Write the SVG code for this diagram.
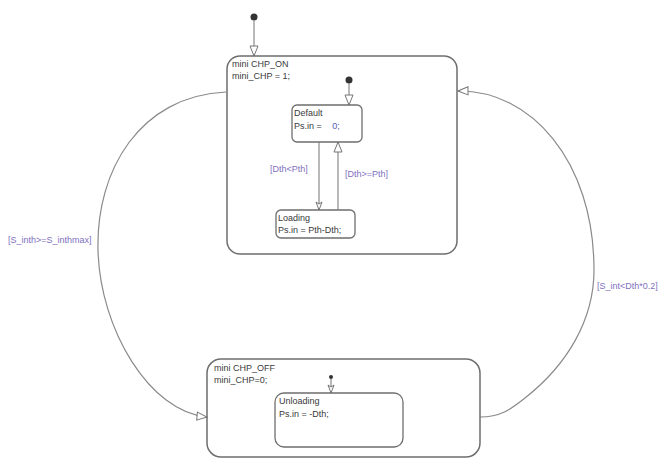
<svg xmlns="http://www.w3.org/2000/svg" width="665" height="461" viewBox="0 0 665 461">
<style>
.box{fill:none;stroke:#6e6e6e;stroke-width:1.5}
.ibox{fill:none;stroke:#6e6e6e;stroke-width:1.3}
.t{font-family:"Liberation Sans",Arial,sans-serif;font-size:9px;fill:#3a3a3a}
.lbl{font-family:"Liberation Sans",Arial,sans-serif;font-size:9px;fill:#8070c0}
.wire{fill:none;stroke:#8a8a8a;stroke-width:1.2}
.dot{fill:#333}
</style>
<defs>
<marker id="arr" markerWidth="12" markerHeight="10" refX="11" refY="5" orient="auto" markerUnits="userSpaceOnUse">
<path d="M1,1 L11,5 L1,9 Z" fill="#fff" stroke="#777" stroke-width="1"/>
</marker>
<marker id="arrs" markerWidth="10" markerHeight="8" refX="9" refY="4" orient="auto" markerUnits="userSpaceOnUse">
<path d="M1,1 L9,4 L1,7 L3,4 Z" fill="#fff" stroke="#777" stroke-width="1"/>
</marker>
</defs>
<g id="connectors">
<circle class="dot" cx="254" cy="17" r="3.5"/>
<line class="wire" x1="254" y1="20" x2="254" y2="56" marker-end="url(#arr)"/>
<circle class="dot" cx="349" cy="80" r="3.5"/>
<line class="wire" x1="349" y1="83" x2="349" y2="105" marker-end="url(#arr)"/>
<line class="wire" x1="319" y1="142" x2="319" y2="210" marker-end="url(#arrs)"/>
<line class="wire" x1="338" y1="210" x2="338" y2="142" marker-end="url(#arr)"/>
<circle class="dot" cx="331" cy="377" r="2"/>
<line class="wire" x1="331" y1="379" x2="331" y2="393" marker-end="url(#arrs)"/>
<path class="wire" d="M226,92 C140,96 96,170 98,250 C100,330 150,412 207,417" marker-end="url(#arr)"/>
<path class="wire" d="M480,417 C500,417 510,410 525,398 C567,365 594,320 594,270 C594,160 530,90 458,91" marker-end="url(#arr)"/>
<text class="lbl" x="270" y="172">[Dth&lt;Pth]</text>
<text class="lbl" x="345" y="177">[Dth&gt;=Pth]</text>
<text class="lbl" x="8" y="243">[S_inth&gt;=S_inthmax]</text>
<text class="lbl" x="597" y="289">[S_int&lt;Dth*0.2]</text>
</g>
<g id="mini_CHP_ON">
<rect class="box" x="227" y="56" width="230" height="198" rx="13"/>
<text class="t" x="232" y="67">mini CHP_ON</text>
<text class="t" x="232" y="79">mini_CHP = 1;</text>
</g>
<g id="Default">
<rect class="ibox" x="292" y="105" width="70" height="37" rx="5"/>
<text class="t" x="294" y="116">Default</text>
<text class="t" x="294" y="129">Ps.in = <tspan fill="#5560b0" dx="8">0;</tspan></text>
</g>
<g id="Loading">
<rect class="ibox" x="276" y="210" width="79" height="28" rx="5"/>
<text class="t" x="278" y="221">Loading</text>
<text class="t" x="278" y="233">Ps.in = Pth-Dth;</text>
</g>
<g id="mini_CHP_OFF">
<rect class="box" x="207" y="359" width="273" height="98" rx="14"/>
<text class="t" x="214" y="371">mini CHP_OFF</text>
<text class="t" x="214" y="383">mini_CHP=0;</text>
</g>
<g id="Unloading">
<rect class="ibox" x="275" y="393" width="128" height="54" rx="9"/>
<text class="t" x="279" y="404">Unloading</text>
<text class="t" x="279" y="417">Ps.in = -Dth;</text>
</g>
</svg>
